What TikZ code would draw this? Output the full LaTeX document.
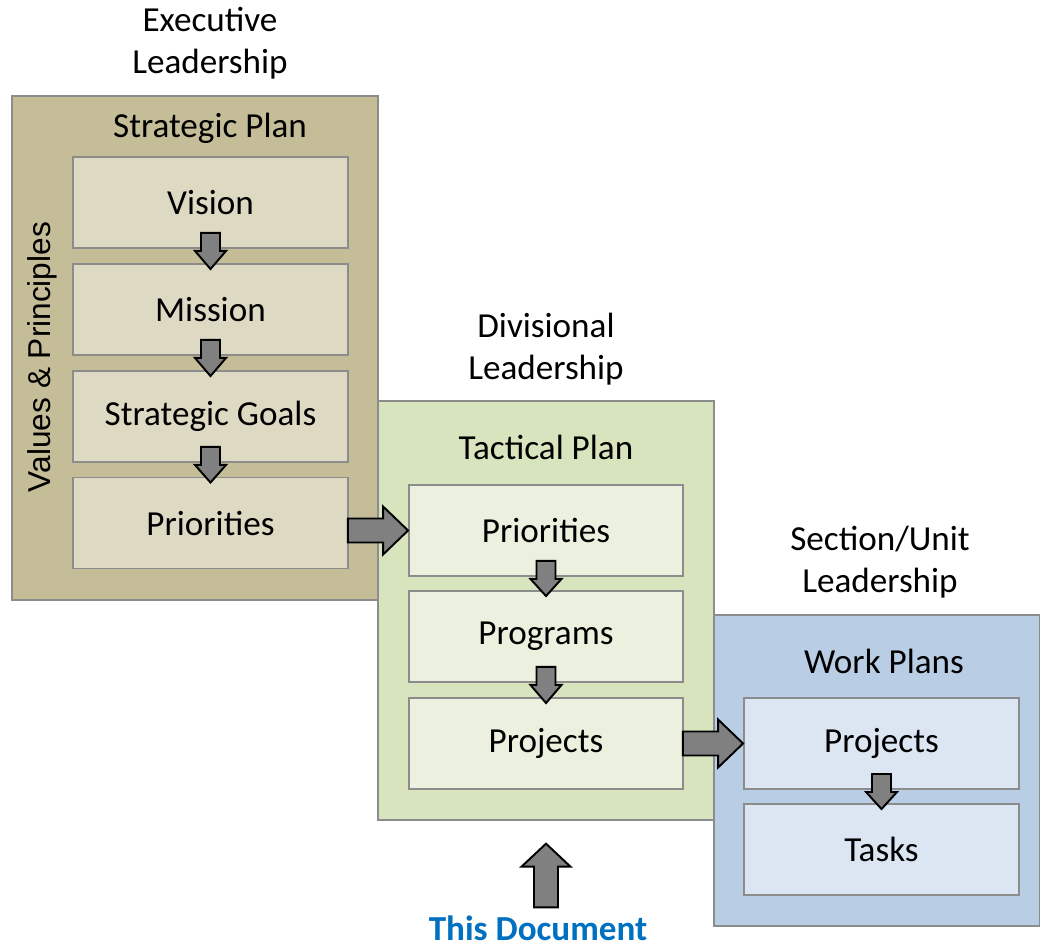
\documentclass[tikz,border=0pt]{standalone}
\usepackage{fontspec}
\setmainfont{Carlito}
\newfontfamily\arialfont{Liberation Sans}
\usetikzlibrary{calc}

\definecolor{tanout}{HTML}{C4BD97}
\definecolor{tanin}{HTML}{DDD9C3}
\definecolor{greenout}{HTML}{D7E4BD}
\definecolor{greenin}{HTML}{EBF1DE}
\definecolor{blueout}{HTML}{B9CDE5}
\definecolor{bluein}{HTML}{DCE6F2}
\definecolor{edgegray}{HTML}{8C8C8C}
\definecolor{docblue}{HTML}{0070C0}

\tikzset{
  outerbox/.style={draw=edgegray, line width=0.8pt, rectangle, inner sep=0pt},
  innerbox/.style={draw=edgegray, line width=1.1pt, rectangle, inner sep=0pt,
    minimum width=5.5cm, minimum height=1.82cm, font=\fontsize{20}{24}\selectfont},
  boxtitle/.style={font=\fontsize{20}{24}\selectfont},
  leadlabel/.style={align=center, font=\fontsize{20}{24}\selectfont},
  blockarrow/.style={draw=black, fill=black!50, line width=1.1pt, line join=miter}
}

% fat arrow, east side of #1 to west side of #2
\newcommand\rarrow[2]{%
  \draw[blockarrow] ($(#1.east |- #2.west)+(-1,-12)$) -- ($(#2.west)+(-25,-12)$)
    -- ($(#2.west)+(-25,-24)$) -- (#2.west) -- ($(#2.west)+(-25,24)$)
    -- ($(#2.west)+(-25,12)$) -- ($(#1.east |- #2.west)+(-1,12)$) -- cycle;}
% small arrow, bottom of #1 down into #2
\newcommand\darrow[2]{%
  \draw[blockarrow] ($(#1.south)+(-9.5,-16)$) -- ($(#1.south)+(-9.5,2)$)
    -- ($(#1.south)+(-15.5,2)$) -- ($(#2.north)+(0,6)$) -- ($(#1.south)+(15.5,2)$)
    -- ($(#1.south)+(9.5,2)$) -- ($(#1.south)+(9.5,-16)$) -- cycle;}
% fat arrow, up from #1 to the bottom of #2
\newcommand\uarrow[2]{%
  \draw[blockarrow] ($(#2.south |- #1.north)+(-12,-6)$) -- ($(#2.south)+(-12,46)$)
    -- ($(#2.south)+(-24.5,46)$) -- ($(#2.south)+(0,23)$) -- ($(#2.south)+(24.5,46)$)
    -- ($(#2.south)+(12,46)$) -- ($(#2.south |- #1.north)+(12,-6)$) -- cycle;}

\begin{document}
\begin{tikzpicture}[x=0.02cm, y=-0.02cm]
  \useasboundingbox (0,0) rectangle (1040,949);

  %%% executive level
  \node[outerbox, fill=tanout, minimum width=7.32cm, minimum height=10.08cm] (exec) at (195,348) {};
  \node[leadlabel] (execlead) at (210,43) {Executive\\Leadership};
  \node[boxtitle] (stratplan) at (210,128) {Strategic Plan};
  \node[rotate=90, font=\arialfont\fontsize{18}{22}\selectfont] (values) at (42,357) {Values \& Principles};
  \node[innerbox, fill=tanin] (vision) at (210.5,202.5) {Vision};
  \node[innerbox, fill=tanin] (mission) at (210.5,309.5) {Mission};
  \node[innerbox, fill=tanin] (goals) at (210.5,416.5) {Strategic Goals};
  \node[innerbox, fill=tanin] (stratprio) at (210.5,523) {Priorities};

  %%% divisional level
  \node[outerbox, fill=greenout, minimum width=6.72cm, minimum height=8.38cm] (div) at (546,610.5) {};
  \node[leadlabel] (divlead) at (546,349) {Divisional\\Leadership};
  \node[boxtitle] (tactplan) at (546,447) {Tactical Plan};
  \node[innerbox, fill=greenin, minimum width=5.48cm] (tactprio) at (546,530.5) {Priorities};
  \node[innerbox, fill=greenin, minimum width=5.48cm] (programs) at (546,636.5) {Programs};
  \node[innerbox, fill=greenin, minimum width=5.48cm] (tactproj) at (546,743.5) {Projects};

  %%% section/unit level
  \node[outerbox, fill=blueout, minimum width=6.52cm, minimum height=6.22cm] (sect) at (877,770.5) {};
  \node[leadlabel] (sectlead) at (880,562) {Section/Unit\\Leadership};
  \node[boxtitle] (workplans) at (884,661) {Work Plans};
  \node[innerbox, fill=bluein] (workproj) at (881.5,743.5) {Projects};
  \node[innerbox, fill=bluein] (tasks) at (881.5,849.5) {Tasks};

  \node[font=\bfseries\fontsize{20}{24}\selectfont, text=docblue, inner sep=1pt] (doc) at (538,928) {This Document};

  %%% arrows
  \darrow{vision}{mission}
  \darrow{mission}{goals}
  \darrow{goals}{stratprio}
  \darrow{tactprio}{programs}
  \darrow{programs}{tactproj}
  \darrow{workproj}{tasks}
  \rarrow{stratprio}{tactprio}
  \rarrow{tactproj}{workproj}
  \uarrow{doc}{div}
\end{tikzpicture}
\end{document}
